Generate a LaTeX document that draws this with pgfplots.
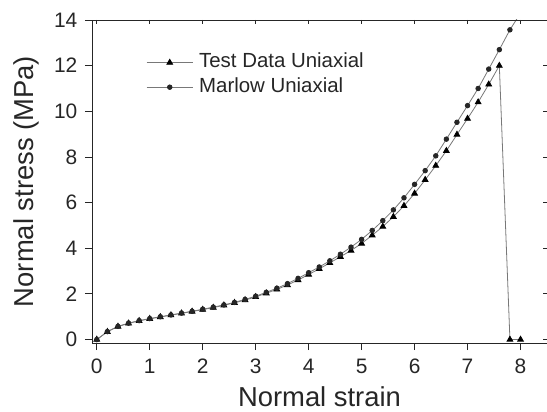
\documentclass[border=0pt]{standalone}
\usepackage{pgfplots}
\pgfplotsset{compat=1.18}
\usepackage{fontspec}
\setmainfont{Liberation Sans}
\definecolor{linegray}{RGB}{120,120,120}
\pgfplotstableread{
x y
0 0
0.2 0.34
0.4 0.57
0.6 0.71
0.8 0.82
1.0 0.91
1.2 0.99
1.4 1.07
1.6 1.15
1.8 1.23
2.0 1.31
2.2 1.40
2.4 1.50
2.6 1.61
2.8 1.73
3.0 1.87
3.2 2.03
3.4 2.20
3.6 2.39
3.8 2.61
4.0 2.85
4.2 3.10
4.4 3.36
4.6 3.63
4.8 3.90
5.0 4.21
5.2 4.57
5.4 4.95
5.6 5.38
5.8 5.86
6.0 6.40
6.2 7.00
6.4 7.62
6.6 8.27
6.8 8.98
7.0 9.68
7.2 10.40
7.4 11.18
7.6 12.00
7.8 0
8.0 0
}\testdata
\pgfplotstableread{
x y
0 0
0.2 0.35
0.4 0.58
0.6 0.72
0.8 0.83
1.0 0.92
1.2 1.00
1.4 1.08
1.6 1.16
1.8 1.24
2.0 1.33
2.2 1.42
2.4 1.52
2.6 1.63
2.8 1.76
3.0 1.90
3.2 2.07
3.4 2.25
3.6 2.45
3.8 2.68
4.0 2.93
4.2 3.18
4.4 3.45
4.6 3.74
4.8 4.05
5.0 4.39
5.2 4.78
5.4 5.21
5.6 5.68
5.8 6.21
6.0 6.80
6.2 7.40
6.4 8.05
6.6 8.78
6.8 9.52
7.0 10.25
7.2 11.00
7.4 11.85
7.6 12.70
7.8 13.57
}\marlow
\begin{document}
\begin{tikzpicture}
\pgfplotsset{
  common/.style={
    scale only axis, width=455bp, height=323bp,
    xmin=-0.09, xmax=8.5, ymin=-0.15, ymax=14,
    xtick={0,...,8}, ytick={0,2,...,14},
    axis line style={line width=0.9bp, black!85},
    tick style={line width=0.9bp, black!85},
    /pgf/number format/assume math mode=true,
  }
}
\begin{axis}[common,
  xtick pos=bottom, ytick pos=left, tick align=outside,
  major tick length=7bp,
  ticklabel style={font=\fontsize{21}{25}\selectfont, black!85},
  yticklabel style={inner sep=0pt, xshift=-7.5bp},
  xticklabel style={inner sep=0pt, yshift=-9bp},
  xlabel={Normal strain}, ylabel={Normal stress (MPa)},
  label style={font=\fontsize{27.5}{32}\selectfont, black!85},
  xlabel style={at={(axis description cs:0.5,-0.1965)}, anchor=base},
  ylabel style={at={(axis description cs:-0.1275,0.5)}, anchor=base, rotate=0},
  legend style={draw=none, fill=none, inner sep=0pt,
    at={(axis description cs:0.119,0.830)}, anchor=west,
    font=\fontsize{20.5}{24}\selectfont, text=black!85,
    row sep=6.6bp,
    nodes={inner sep=0pt, text height=14bp, text depth=4bp},
    /tikz/every odd column/.append style={column sep=6bp}},
  legend cell align=left,
  legend image code/.code={\draw[mark repeat=2,mark phase=2,#1] plot coordinates {(0bp,0bp) (23bp,0bp) (46bp,0bp)};},
]
\addplot[linegray, line width=0.8bp, mark=triangle*, mark size=3.3bp,
  mark options={fill=black, draw=black, solid}] table[x=x,y=y] {\testdata};
\addlegendentry{Test Data Uniaxial}
\addplot[linegray, line width=0.8bp, mark=*, mark size=2.3bp,
  mark options={fill=black!85, draw=black!85, solid}] table[x=x,y=y] {\marlow};
\addlegendentry{Marlow Uniaxial}
\addplot[linegray, line width=0.8bp, forget plot] coordinates {(7.8,13.57) (8.0,14.3)};
\end{axis}
\begin{axis}[common,
  xtick pos=top, ytick pos=right, tick align=inside,
  major tick length=4bp,
  xticklabels={}, yticklabels={},
]
\end{axis}
\pgfresetboundingbox
\path[use as bounding box] (current axis.south west) ++(-92bp,-69bp) rectangle ++(547bp,412bp);
\end{tikzpicture}
\end{document}
